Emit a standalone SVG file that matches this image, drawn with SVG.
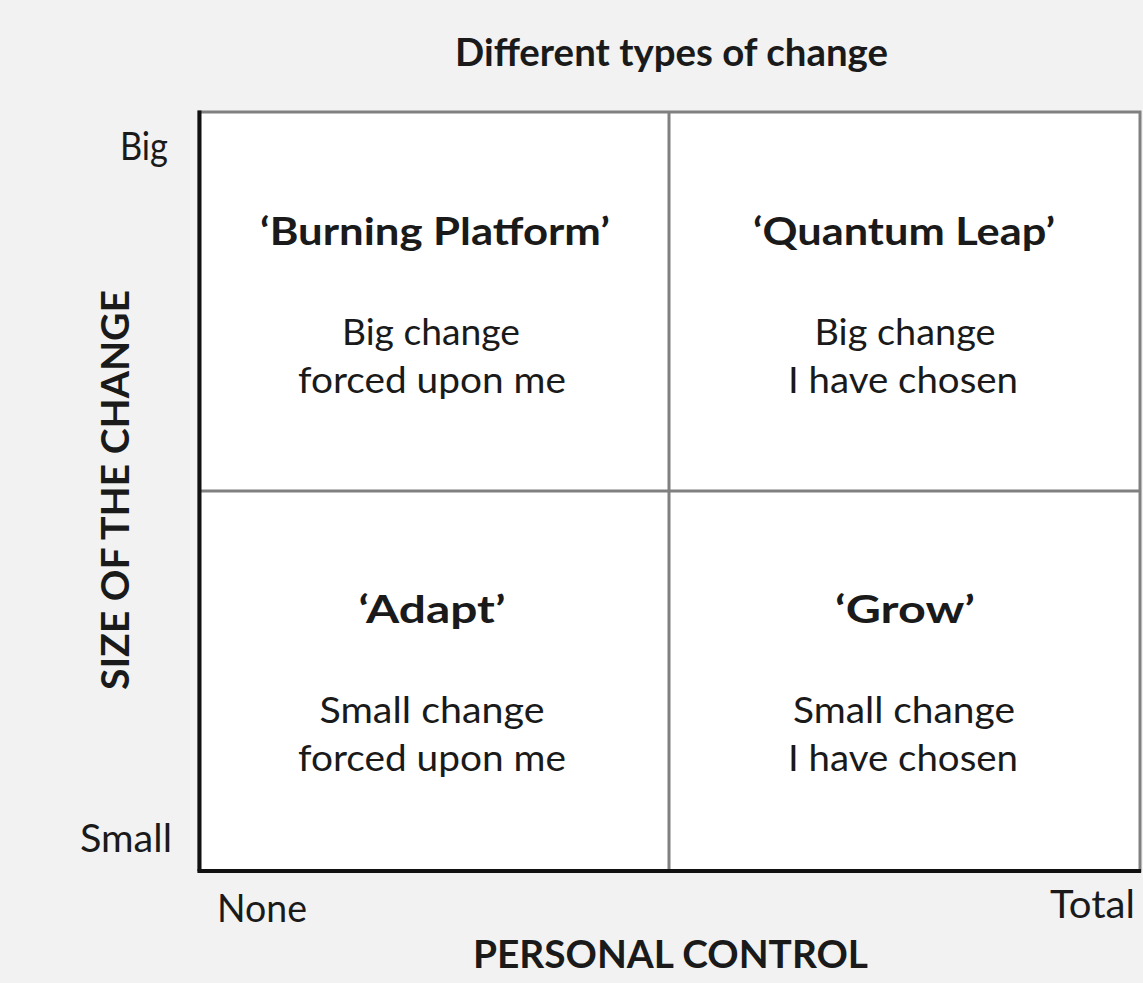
<svg xmlns="http://www.w3.org/2000/svg" width="1143" height="983" viewBox="0 0 1143 983">
  <style>
    text { font-family: Lato, "Open Sans", "Liberation Sans", sans-serif; fill: #1a1a1a; }
    .head { font-size: 38px; font-weight: bold; }
    .axis { font-size: 38px; }
    .title { font-size: 38px; font-weight: bold; text-anchor: middle; }
    .body { font-size: 37px; text-anchor: middle; }
    .frame { fill: #ffffff; stroke: #808080; stroke-width: 3; }
    .divider { stroke: #808080; stroke-width: 3; fill: none; }
    .axisline { stroke: #111111; stroke-width: 4; fill: none; }
  </style>

  <!-- page background -->
  <rect x="0" y="0" width="1143" height="983" fill="#f2f2f2"/>

  <!-- chart heading -->
  <text class="head" x="671.5" y="66" text-anchor="middle" textLength="433" lengthAdjust="spacingAndGlyphs">Different types of change</text>

  <!-- grid: frame, quadrant dividers and the two axes -->
  <g id="grid">
    <rect class="frame" x="199" y="112" width="941" height="759"/>
    <line class="divider" x1="669" y1="112" x2="669" y2="871"/>
    <line class="divider" x1="199" y1="491" x2="1140" y2="491"/>
    <line class="axisline" x1="199.5" y1="110.5" x2="199.5" y2="871"/>
    <line class="axisline" x1="197.5" y1="871" x2="1141" y2="871"/>
  </g>

  <!-- axis labels -->
  <g id="axis-labels">
    <text class="axis" x="120" y="160" textLength="48" lengthAdjust="spacingAndGlyphs">Big</text>
    <text class="axis" x="80" y="852" textLength="92" lengthAdjust="spacingAndGlyphs">Small</text>
    <text class="axis" x="217" y="922" textLength="90" lengthAdjust="spacingAndGlyphs">None</text>
    <text class="axis" x="1050" y="918" textLength="85" lengthAdjust="spacingAndGlyphs">Total</text>
    <text class="head" x="670.5" y="968" text-anchor="middle" textLength="395" lengthAdjust="spacingAndGlyphs">PERSONAL CONTROL</text>
    <text class="head" x="0" y="0" text-anchor="middle" textLength="400" lengthAdjust="spacingAndGlyphs" transform="translate(129 490) rotate(-90)">SIZE OF THE CHANGE</text>
  </g>

  <!-- quadrants -->
  <g id="burning-platform">
    <text class="title" x="435" y="245" textLength="350" lengthAdjust="spacingAndGlyphs">‘Burning Platform’</text>
    <text class="body" x="431" y="345" textLength="178" lengthAdjust="spacingAndGlyphs">Big change</text>
    <text class="body" x="432" y="393" textLength="268" lengthAdjust="spacingAndGlyphs">forced upon me</text>
  </g>

  <g id="quantum-leap">
    <text class="title" x="904" y="245" textLength="302" lengthAdjust="spacingAndGlyphs">‘Quantum Leap’</text>
    <text class="body" x="905" y="345" textLength="181" lengthAdjust="spacingAndGlyphs">Big change</text>
    <text class="body" x="903" y="393" textLength="230" lengthAdjust="spacingAndGlyphs">I have chosen</text>
  </g>

  <g id="adapt">
    <text class="title" x="432" y="623" textLength="147" lengthAdjust="spacingAndGlyphs">‘Adapt’</text>
    <text class="body" x="432" y="723" textLength="225" lengthAdjust="spacingAndGlyphs">Small change</text>
    <text class="body" x="432" y="771" textLength="268" lengthAdjust="spacingAndGlyphs">forced upon me</text>
  </g>

  <g id="grow">
    <text class="title" x="905" y="623" textLength="140" lengthAdjust="spacingAndGlyphs">‘Grow’</text>
    <text class="body" x="904" y="723" textLength="222" lengthAdjust="spacingAndGlyphs">Small change</text>
    <text class="body" x="903" y="771" textLength="230" lengthAdjust="spacingAndGlyphs">I have chosen</text>
  </g>
</svg>
